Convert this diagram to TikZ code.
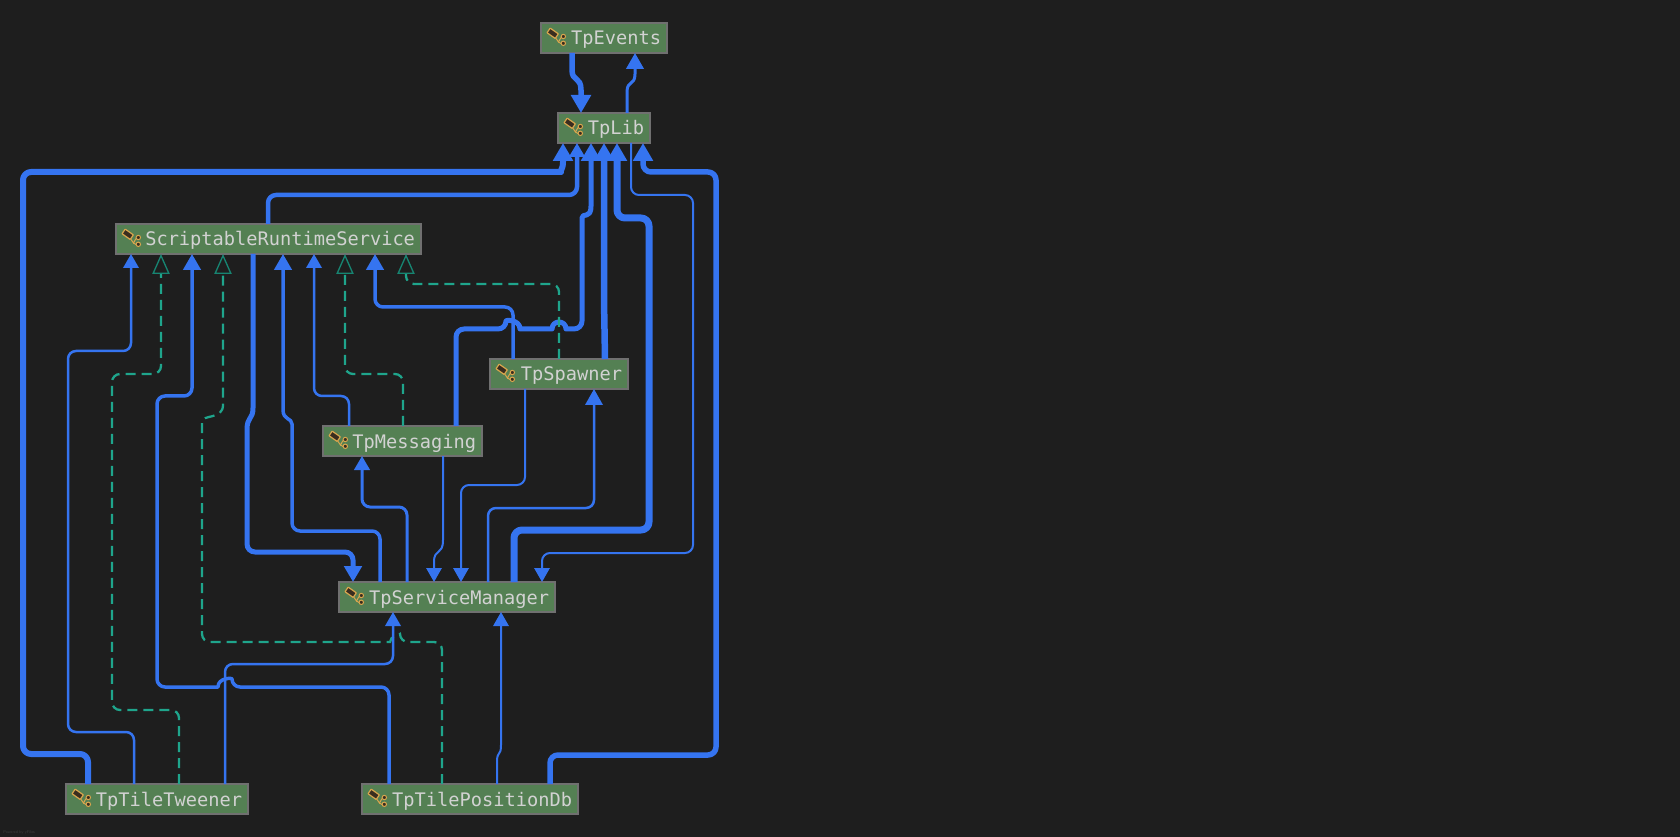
\documentclass[tikz,border=0pt]{standalone}
\usepackage{fontspec}
\usetikzlibrary{arrows.meta,calc}
\newfontfamily\diagmono{DejaVu Sans Mono}
\definecolor{bgc}{HTML}{1E1E1E}
\definecolor{nodefill}{HTML}{548053}
\definecolor{nodeline}{HTML}{707070}
\definecolor{nodetext}{HTML}{D2D2D2}
\definecolor{bluec}{HTML}{3574F0}
\definecolor{tealc}{HTML}{1FA58C}
\definecolor{tealdark}{HTML}{178572}
\definecolor{goldc}{HTML}{D9A64E}
\definecolor{iconc}{HTML}{3A2D1F}
\tikzset{
  x=0.75pt,y=-0.75pt,
  classbox/.style={draw=nodeline,line width=1pt,fill=nodefill,text=nodetext,anchor=north west,outer sep=0pt,
    inner xsep=4.5pt,inner ysep=0pt,text height=16.5pt,text depth=6pt,
    font=\diagmono\fontsize{14}{16}\selectfont,align=right,text width=(#1-12)*0.75pt},
  link/.style={draw=bluec,line width=#1*0.75pt,rounded corners=6pt,line join=round},
  realise/.style={draw=tealc,line width=1.7pt,rounded corners=6pt,dash pattern=on 7.5pt off 4.5pt,
    -{Triangle[open,length=15pt,width=13pt,color=tealdark,line width=1pt]}},
  hA/.style={-{Triangle[length=13.5pt,width=14.5pt]}},
  hB/.style={-{Triangle[length=12pt,width=13pt]}},
  hC/.style={-{Triangle[length=10.5pt,width=11.5pt]}},
  pics/classicon/.style={code={
    \draw[goldc,line width=0.75pt] (14,14) -- (17.5,19) -- (20,14.5) (17.5,19) -- (20,20.5);
    \draw[goldc,line width=0.9pt,fill=iconc,rounded corners=0.4pt,rotate around={-35:(11.7,10.3)}] (6.7,7.5) rectangle (16.7,13.1);
    \draw[goldc,line width=0.75pt,fill=iconc] (22.3,13.5) circle[radius=2.2];
    \draw[goldc,line width=0.75pt,fill=iconc] (22.3,20.3) circle[radius=2.2];
  }},
}
\begin{document}
\begin{tikzpicture}
\useasboundingbox (0,0) rectangle (1680,837);
\fill[bgc] (0,0) rectangle (1680,837);

\node[classbox=126] (events) at (541,23) {TpEvents};
\node[classbox=92] (lib) at (558,113) {TpLib};
\node[classbox=305] (srs) at (116,224) {ScriptableRuntimeService};
\node[classbox=138] (spawner) at (490,359) {TpSpawner};
\node[classbox=159] (messaging) at (323,426) {TpMessaging};
\node[classbox=216] (manager) at (339,582) {TpServiceManager};
\node[classbox=182] (tweener) at (66,784) {TpTileTweener};
\node[classbox=216] (posdb) at (362,784) {TpTilePositionDb};

\foreach \n in {events,lib,srs,spawner,messaging,manager,tweener,posdb}
  \pic at (\n.north west) {classicon};

% TpEvents / TpLib
\draw[link=5.5,hA,sharp corners] ($(events.south west)+(31,0)$) -- (572,70) .. controls (572,82) and (581,76) .. (581,90) -- ($(lib.north west)+(23,0)$);
\draw[link=3,hB,sharp corners] ($(lib.north west)+(69,0)$) -- (627,92) .. controls (627,80) and (635,86) .. (635,74) -- ($(events.south west)+(94,0)$);

% into TpLib
\draw[link=6,hA] ($(tweener.north west)+(22,0)$) -- (88,754) -- (23,754) -- (23,172) -- (553,172) [sharp corners] .. controls (559,172) and (563,170) .. (563,162) -- ($(lib.south west)+(5,0)$);
\draw[link=4.5,hC] ($(srs.north west)+(152,0)$) -- (268,195) -- (577,195) -- ($(lib.south west)+(19,0)$);
\draw[link=5,hA] ($(messaging.north west)+(133,0)$) -- (456,329) -- (506,329)
   [sharp corners] .. controls (506,319.7) and (520,319.7) .. (520,329) -- (552,329)
   .. controls (552,319.7) and (566,319.7) .. (566,329) [rounded corners=6pt] -- (582,329) -- (582,226) [sharp corners] .. controls (582,212) and (591,220) .. (591,206) -- ($(lib.south west)+(33,0)$);
\draw[link=6.5,hA] ($(spawner.north west)+(115,0)$) -- (604,300) -- ($(lib.south west)+(46,0)$);
\draw[link=7,hA] ($(manager.north west)+(175,0)$) -- (514,530) -- (649,530) -- (649,218) -- (617,218) -- ($(lib.south west)+(59,0)$);
\draw[link=5.5,hA] ($(posdb.north west)+(188,0)$) -- (550,755) -- (716,755) -- (716,172) -- (643,172) -- ($(lib.south west)+(85,0)$);

% TpLib to manager
\draw[link=2,hC] ($(lib.south west)+(73,0)$) -- (631,195) -- (693,195) -- (693,553) -- (542,553) -- ($(manager.north west)+(203,0)$);

% into ScriptableRuntimeService
\draw[link=2.5,hC] ($(tweener.north west)+(68,0)$) -- (134,732) -- (68,732) -- (68,351) -- (131,351) -- ($(srs.south west)+(15,0)$);
\draw[realise] ($(tweener.north west)+(113,0)$) -- (179,710) -- (112,710) -- (112,374) -- (161,374) -- ($(srs.south west)+(45,0)$);
\draw[link=3.5,hB] ($(posdb.north west)+(27,0)$) -- (389,687) -- (232,687)
   [sharp corners] .. controls (232,677.7) and (218,677.7) .. (218,687) [rounded corners=6pt] -- (157,687) -- (157,396) -- (192,396) -- ($(srs.south west)+(76,0)$);
\draw[realise] ($(posdb.north west)+(80,0)$) -- (442,642) -- (400,642)
   [sharp corners] .. controls (400,635.5) and (390,635.5) .. (390,642) [rounded corners=6pt] -- (202,642) -- (202,430) [sharp corners] .. controls (202,414) and (223,420) .. (223,405) -- ($(srs.south west)+(107,0)$);
\draw[link=3.5,hB] ($(manager.north west)+(41,0)$) -- (380,531) -- (292,531) -- (292,432) [sharp corners] .. controls (292,418) and (283,420) .. (283,410) -- ($(srs.south west)+(167,0)$);
\draw[link=2.5,hC] ($(messaging.north west)+(26,0)$) -- (349,396) -- (314,396) -- ($(srs.south west)+(198,0)$);
\draw[realise] ($(messaging.north west)+(80,0)$) -- (403,374) -- (345,374) -- ($(srs.south west)+(229,0)$);
\draw[link=3.5,hB] ($(spawner.north west)+(23,0)$) -- (513,307) -- (375,307) -- ($(srs.south west)+(259,0)$);
\draw[realise] ($(spawner.north west)+(69,0)$) -- (559,284) -- (406,284) -- ($(srs.south west)+(290,0)$);

% srs to manager
\draw[link=5,hB,sharp corners] ($(srs.south west)+(137,0)$) -- (253,408) .. controls (253,420) and (247,416) .. (247,430) [rounded corners=6pt] -- (247,552) -- (353,552) -- ($(manager.north west)+(14,0)$);

% into manager
\draw[link=2,hC,sharp corners] ($(messaging.south west)+(120,0)$) -- (443,540) .. controls (443,556) and (434,548) .. (434,562) -- ($(manager.north west)+(95,0)$);
\draw[link=2,hC] ($(spawner.south west)+(35,0)$) -- (525,485) -- (461,485) -- ($(manager.north west)+(122,0)$);
\draw[link=2.5,hC] ($(tweener.north west)+(159,0)$) -- (225,664) -- (393,664) -- ($(manager.south west)+(54,0)$);
\draw[link=2,hC,sharp corners] ($(posdb.north west)+(135,0)$) -- (497,762) .. controls (497,750) and (501,757) .. (501,745) -- ($(manager.south west)+(162,0)$);

% out of manager
\draw[link=3,hC] ($(manager.north west)+(68,0)$) -- (407,507) -- (362,507) -- ($(messaging.south west)+(39,0)$);
\draw[link=2.5,hB] ($(manager.north west)+(149,0)$) -- (488,508) -- (594,508) -- ($(spawner.south west)+(104,0)$);

\node[font=\sffamily\fontsize{3}{4}\selectfont,text=white!14!bgc,anchor=west,inner sep=0pt] (credit) at (3,833) {Powered by yFiles};
\end{tikzpicture}
\end{document}
